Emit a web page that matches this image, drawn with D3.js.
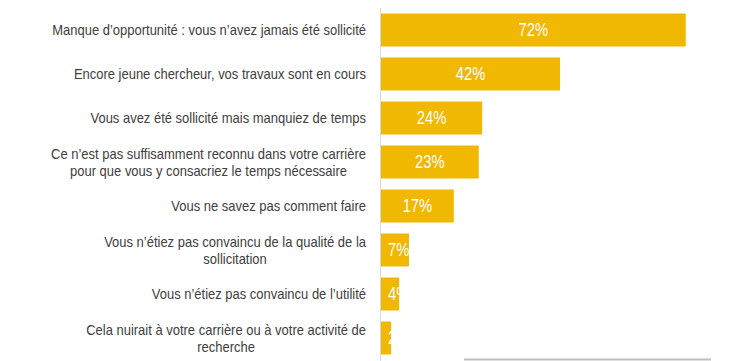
<!DOCTYPE html>
<html>
<head>
<meta charset="utf-8">
<script src="https://cdn.jsdelivr.net/npm/d3@7/dist/d3.min.js"></script>
<style>
  html, body { margin: 0; padding: 0; background: #fff; }
  svg { display: block; }
  text { font-family: "Liberation Sans", Arial, sans-serif; }
</style>
</head>
<body>
<svg id="chart" width="754" height="361"></svg>
<script>
const categories = [
  ["Manque d\u2019opportunité : vous n\u2019avez jamais été sollicité"],
  ["Encore jeune chercheur, vos travaux sont en cours"],
  ["Vous avez été sollicité mais manquiez de temps"],
  ["Ce n\u2019est pas suffisamment reconnu dans votre carrière", "pour que vous y consacriez le temps nécessaire"],
  ["Vous ne savez pas comment faire"],
  ["Vous n\u2019étiez pas convaincu de la qualité de la", "sollicitation"],
  ["Vous n\u2019étiez pas convaincu de l\u2019utilité"],
  ["Cela nuirait à votre carrière ou à votre activité de", "recherche"]
];
const values = [0.72, 0.423, 0.239, 0.231, 0.172, 0.066, 0.043, 0.024];
const valueLabels = ["72%", "42%", "24%", "23%", "17%", "7%", "4%", "2%"];

const NARROW_LABEL = 0.865; // emulate Arial Narrow
const NARROW_VALUE = 0.82;

const svg = d3.select("#chart");
const keys = d3.range(categories.length);

const x = d3.scaleLinear().domain([0, 0.8]).range([381, 719.6]);
const y = d3.scaleBand().domain(keys).range([8, 360]).paddingInner(0.25).paddingOuter(0.125);

function narrow(f) {
  return sel => sel.each(function() {
    const w = this.getComputedTextLength();
    d3.select(this).attr("textLength", w * f).attr("lengthAdjust", "spacingAndGlyphs");
    this.__w = w * f;
  });
}

const defs = svg.append("defs");
defs.selectAll("clipPath").data(keys).join("clipPath")
  .attr("id", d => "clip" + d)
  .append("rect")
  .attr("x", x(0))
  .attr("y", d => y(d))
  .attr("width", d => x(values[d]) - x(0))
  .attr("height", y.bandwidth());

// bottom gray line
svg.append("line")
  .attr("x1", 464).attr("x2", 711)
  .attr("y1", 359.5).attr("y2", 359.5)
  .attr("stroke", "#bfbfbf").attr("stroke-width", 2);

// bars
svg.selectAll("rect.bar").data(keys).join("rect")
  .attr("class", "bar")
  .attr("x", x(0))
  .attr("y", d => y(d))
  .attr("width", d => x(values[d]) - x(0))
  .attr("height", y.bandwidth())
  .attr("fill", "#F0B800");

// value labels (white; clipped to bar like the reference where it overflows)
svg.selectAll("text.val").data(keys).join("text")
  .attr("class", "val")
  .attr("clip-path", d => `url(#clip${d})`)
  .attr("y", d => y(d) + y.bandwidth() / 2)
  .attr("dy", "0.36em")
  .attr("fill", "#ffffff")
  .attr("font-size", "18px")
  .text(d => valueLabels[d])
  .call(narrow(NARROW_VALUE))
  .each(function(d) {
    const w = this.__w;
    const cx = (x(0) + x(values[d])) / 2;
    const start = Math.max(cx - w / 2, x(0) + 7);
    d3.select(this).attr("x", start);
  });

// vertical axis line
svg.append("line")
  .attr("x1", 380.5).attr("x2", 380.5)
  .attr("y1", 8).attr("y2", 361)
  .attr("stroke", "#d9d9d9").attr("stroke-width", 1);

// category labels
const lineH = 17;
keys.forEach(d => {
  const lines = categories[d];
  const g = svg.append("g");
  const cy = y(d) + y.bandwidth() / 2;
  const t = g.selectAll("text").data(lines).join("text")
    .attr("font-size", "15px")
    .attr("fill", "#404040")
    .attr("text-anchor", "middle")
    .attr("y", (l, i) => cy + (i - (lines.length - 1) / 2) * lineH)
    .attr("dy", "0.36em")
    .text(l => l)
    .call(narrow(NARROW_LABEL));
  let maxW = 0;
  t.each(function() { maxW = Math.max(maxW, this.__w); });
  t.attr("x", 366 - maxW / 2);
});
</script>
</body>
</html>
